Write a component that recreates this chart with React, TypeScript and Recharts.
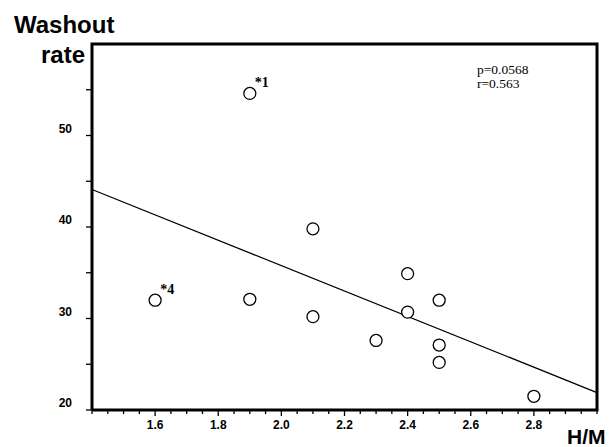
import React from 'react';
import {
  ScatterChart,
  Scatter,
  XAxis,
  YAxis,
  ReferenceLine,
} from 'recharts';

// H/M ratio vs washout rate
const hmValues = [1.6, 1.9, 1.9, 2.1, 2.1, 2.3, 2.4, 2.4, 2.5, 2.5, 2.5, 2.8];
const washoutValues = [32.0, 54.6, 32.1, 39.8, 30.2, 27.6, 34.9, 30.7, 32.0, 27.1, 25.2, 21.5];
const pointNotes = ['*4', '*1', '', '', '', '', '', '', '', '', '', ''];

// regression line end points
const fitX = [1.4, 3.0];
const fitY = [44.1, 21.9];

// plot frame (axis box) corners, in data units
const frameX = [1.4, 1.4, 3.0, 3.0, 1.4];
const frameY = [20, 60, 60, 20, 20];

const xTicks = [
  1.4, 1.45, 1.5, 1.55, 1.6, 1.65, 1.7, 1.75, 1.8, 1.85, 1.9, 1.95, 2.0, 2.05, 2.1, 2.15, 2.2,
  2.25, 2.3, 2.35, 2.4, 2.45, 2.5, 2.55, 2.6, 2.65, 2.7, 2.75, 2.8, 2.85, 2.9, 2.95, 3.0,
];
const xLabels = ['1.6', '1.8', '2.0', '2.2', '2.4', '2.6', '2.8'];
const yTicks = [20, 25, 30, 35, 40, 45, 50, 55];
const yLabels = ['20', '30', '40', '50'];

const statLines = ['p=0.0568', 'r=0.563'];

const SANS = '"Liberation Sans", Arial, sans-serif';
const SERIF = '"Liberation Serif", "Times New Roman", serif';

const findLabel = (labels: string[], v: number) =>
  labels.find(l => Math.abs(Number(l) - v) < 1e-6);

const XTick = (props: any) => {
  const { x, y, payload } = props;
  const label = findLabel(xLabels, payload.value);
  return (
    <g>
      <line x1={x} y1={y} x2={x} y2={y + (label ? 6 : 4)} stroke="#000" strokeWidth={1.3} />
      {label && (
        <text x={x} y={y + 19} textAnchor="middle" fontFamily={SANS} fontWeight="bold" fontSize={12} fill="#000">
          {label}
        </text>
      )}
    </g>
  );
};

const YTick = (props: any) => {
  const { x, y, payload } = props;
  const label = findLabel(yLabels, payload.value);
  return (
    <g>
      <line x1={x - 6} y1={y} x2={x} y2={y} stroke="#000" strokeWidth={1.3} />
      {label && (
        <text x={x - 20} y={y - 3} textAnchor="end" fontFamily={SANS} fontWeight="bold" fontSize={12} fill="#000">
          {label}
        </text>
      )}
    </g>
  );
};

const CirclePoint = (props: any) => {
  const { cx, cy, payload } = props;
  return (
    <g>
      <circle cx={cx} cy={cy} r={6} fill="#fff" stroke="#000" strokeWidth={1.3} />
      {payload.note && (
        <text x={cx + 5} y={cy - 6} fontFamily={SERIF} fontWeight="bold" fontSize={14} fill="#000">
          {payload.note}
        </text>
      )}
    </g>
  );
};

const NoDot = () => <g />;

const points = hmValues.map((x, i) => ({ x, y: washoutValues[i], note: pointNotes[i] }));
const frame = frameX.map((x, i) => ({ x, y: frameY[i] }));

const textBox = (extra: React.CSSProperties): React.CSSProperties => ({
  position: 'absolute',
  lineHeight: 1,
  whiteSpace: 'nowrap',
  color: '#000',
  ...extra,
});

export default function App() {
  return (
    <div style={{ position: 'absolute', left: 0, top: 0, width: 612, height: 447, background: '#fff' }}>
      {/* titles sit underneath the chart svg, which has a transparent background */}
      <div style={textBox({ left: 14, top: 12.7, fontFamily: SANS, fontWeight: 'bold', fontSize: 24 })}>
        Washout
      </div>
      <div style={textBox({ right: 612 - 85, top: 42.7, fontFamily: SANS, fontWeight: 'bold', fontSize: 24 })}>
        rate
      </div>
      <div style={textBox({ left: 567, top: 426.2, fontFamily: SANS, fontWeight: 'bold', fontSize: 21 })}>
        H/M
      </div>
      {statLines.map((s, i) => (
        <div key={s} style={textBox({ left: 477, top: 62.7 + i * 14, fontFamily: SERIF, fontSize: 13.5 })}>
          {s}
        </div>
      ))}
      <div style={{ position: 'absolute', left: 0, top: 0 }}>
        <ScatterChart width={612} height={447} margin={{ top: 44, right: 15, bottom: 7, left: 12 }}>
          <XAxis
            type="number"
            dataKey="x"
            domain={[1.4, 3.0]}
            ticks={xTicks}
            interval={0}
            height={30}
            axisLine={false}
            tickSize={0}
            tickMargin={0}
            tickLine={false}
            tick={<XTick />}
          />
          <YAxis
            type="number"
            dataKey="y"
            domain={[20, 60]}
            ticks={yTicks}
            interval={0}
            width={80}
            axisLine={false}
            tickSize={0}
            tickMargin={0}
            tickLine={false}
            tick={<YTick />}
          />
          <Scatter
            data={frame}
            line={{ stroke: '#000', strokeWidth: 3, fill: 'none' }}
            lineType="joint"
            shape={<NoDot />}
            isAnimationActive={false}
          />
          <ReferenceLine
            segment={[
              { x: fitX[0], y: fitY[0] },
              { x: fitX[1], y: fitY[1] },
            ]}
            stroke="#000"
            strokeWidth={1.3}
          />
          <Scatter data={points} shape={<CirclePoint />} isAnimationActive={false} />
        </ScatterChart>
      </div>
    </div>
  );
}
